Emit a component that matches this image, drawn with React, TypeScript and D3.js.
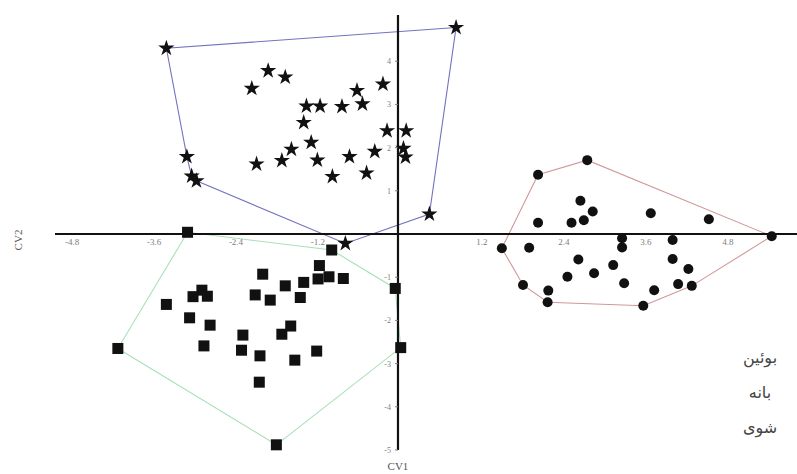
import React, { useEffect, useRef } from "react";
import * as d3 from "d3";

// group 1 (stars) - CV1, CV2
const starX = [-3.39, 0.85, -3.09, -3.02, -2.95, 0.46, -0.77, -1.9, -1.65, -2.14, -0.22, -0.6, -0.52, -1.34, -1.14, -0.82, -1.38, -0.16, 0.12, 0.08, 0.11, -1.27, -1.56, -1.7, -2.07, -1.18, -0.71, -0.34, -0.96, -0.46];
const starY = [4.3, 4.78, 1.79, 1.34, 1.23, 0.46, -0.22, 3.78, 3.63, 3.37, 3.47, 3.32, 3.01, 2.96, 2.96, 2.95, 2.58, 2.39, 2.39, 1.98, 1.78, 2.12, 1.96, 1.7, 1.62, 1.71, 1.79, 1.91, 1.33, 1.41];

// group 2 (squares)
const squareX = [-3.08, -4.1, -1.78, -0.97, -1.15, -1.98, -1.17, -1.01, -0.8, -1.38, -1.65, -0.04, -1.43, -2.09, -1.87, -2.87, -3.0, -2.79, -3.39, -3.05, -2.75, -2.27, -1.7, -1.57, 0.04, -2.84, -2.29, -2.02, -1.19, -1.51, -2.03];
const squareY = [0.04, -2.65, -4.88, -0.37, -0.73, -0.93, -1.04, -0.99, -1.03, -1.12, -1.2, -1.26, -1.47, -1.41, -1.53, -1.3, -1.45, -1.44, -1.63, -1.94, -2.11, -2.34, -2.32, -2.13, -2.63, -2.59, -2.69, -2.82, -2.71, -2.92, -3.43];

// group 3 (circles)
const circleX = [2.77, 2.05, 2.67, 2.85, 2.72, 2.54, 2.05, 3.7, 4.55, 5.47, 1.52, 1.92, 3.28, 3.28, 4.02, 2.64, 3.15, 4.02, 4.25, 2.87, 2.48, 1.83, 2.2, 2.19, 3.31, 3.75, 4.1, 4.3, 3.59];
const circleY = [1.71, 1.37, 0.77, 0.52, 0.32, 0.26, 0.26, 0.48, 0.34, -0.05, -0.33, -0.32, -0.1, -0.31, -0.14, -0.59, -0.72, -0.58, -0.81, -0.91, -0.99, -1.18, -1.31, -1.58, -1.14, -1.3, -1.16, -1.2, -1.66];

const xTicks = [-4.8, -3.6, -2.4, -1.2, 1.2, 2.4, 3.6, 4.8];
const yTicks = [4, 3, 2, 1, -1, -2, -3, -4, -5];
const legendNames = ["بوئین", "بانه", "شوی"];

const App = () => {
  const ref = useRef<SVGSVGElement>(null);

  useEffect(() => {
    const width = 797;
    const height = 474;
    const svg = d3.select(ref.current);
    svg.selectAll("*").remove();

    const x = d3.scaleLinear().domain([-5.02, 5.84]).range([55, 797]);
    const y = d3.scaleLinear().domain([5.07, -5]).range([15, 450]);

    const pts = (xs: number[], ys: number[]) => xs.map((v, i) => [x(v), y(ys[i])] as [number, number]);
    const stars = pts(starX, starY);
    const squares = pts(squareX, squareY);
    const circles = pts(circleX, circleY);

    // hulls
    const hulls: [[number, number][], string][] = [
      [stars, "#7373c0"],
      [squares, "#a9e0b8"],
      [circles, "#d09898"],
    ];
    hulls.forEach(([p, c]) => {
      const h = d3.polygonHull(p);
      if (!h) return;
      svg.append("path")
        .attr("d", "M" + h.join("L") + "Z")
        .attr("fill", "none")
        .attr("stroke", c)
        .attr("stroke-width", 1.1);
    });

    // x axis
    const xAxis = svg.append("g").attr("transform", `translate(0,${y(0)})`);
    xAxis.append("line")
      .attr("x1", x(-5.02)).attr("x2", x(5.84))
      .attr("stroke", "#111").attr("stroke-width", 2.2);
    xAxis.selectAll("text")
      .data(xTicks)
      .join("text")
      .attr("x", (d) => x(d) + 2)
      .attr("y", 11)
      .attr("text-anchor", "middle")
      .attr("font-family", "Liberation Serif, serif")
      .attr("font-size", 9)
      .attr("fill", "#808080")
      .text((d) => d.toFixed(1));

    // y axis
    const yAxis = svg.append("g").attr("transform", `translate(${x(0)},0)`);
    yAxis.append("line")
      .attr("y1", y(5.07)).attr("y2", y(-5))
      .attr("stroke", "#111").attr("stroke-width", 2.2);
    yAxis.selectAll("line.tick")
      .data(yTicks)
      .join("line")
      .attr("class", "tick")
      .attr("x1", -3).attr("x2", 0)
      .attr("y1", (d) => y(d)).attr("y2", (d) => y(d))
      .attr("stroke", "#808080");
    yAxis.selectAll("text")
      .data(yTicks)
      .join("text")
      .attr("x", -7)
      .attr("y", (d) => y(d) + 3)
      .attr("text-anchor", "end")
      .attr("font-family", "Liberation Serif, serif")
      .attr("font-size", 8)
      .attr("fill", "#808080")
      .text((d) => d);

    // axis titles
    svg.append("text")
      .attr("transform", `translate(22,${y(0) + 6}) rotate(-90)`)
      .attr("text-anchor", "middle")
      .attr("font-family", "Liberation Serif, serif")
      .attr("font-size", 11)
      .attr("fill", "#555")
      .text("CV2");
    svg.append("text")
      .attr("x", x(0))
      .attr("y", 470)
      .attr("text-anchor", "middle")
      .attr("font-family", "Liberation Serif, serif")
      .attr("font-size", 11)
      .attr("fill", "#555")
      .text("CV1");

    // markers
    svg.append("g").selectAll("path")
      .data(stars)
      .join("path")
      .attr("transform", (d) => `translate(${d[0]},${d[1]})`)
      .attr("d", d3.symbol(d3.symbolStar, 82)())
      .attr("fill", "#111");
    svg.append("g").selectAll("rect")
      .data(squares)
      .join("rect")
      .attr("x", (d) => d[0] - 5.5)
      .attr("y", (d) => d[1] - 5.5)
      .attr("width", 11)
      .attr("height", 11)
      .attr("fill", "#111");
    svg.append("g").selectAll("circle")
      .data(circles)
      .join("circle")
      .attr("cx", (d) => d[0])
      .attr("cy", (d) => d[1])
      .attr("r", 5)
      .attr("fill", "#111");

    // legend names
    svg.append("g").selectAll("text")
      .data(legendNames)
      .join("text")
      .attr("x", 760)
      .attr("y", (d, i) => 363 + i * 35)
      .attr("text-anchor", "middle")
      .attr("direction", "rtl")
      .attr("font-family", "DejaVu Sans, sans-serif")
      .attr("font-size", 16)
      .attr("fill", "#444")
      .text((d) => d);

    svg.attr("width", width).attr("height", height);
  }, []);

  return (
    <svg
      ref={ref}
      width={797}
      height={474}
      style={{ position: "absolute", left: 0, top: 0, background: "#fff" }}
    />
  );
};

export default App;
